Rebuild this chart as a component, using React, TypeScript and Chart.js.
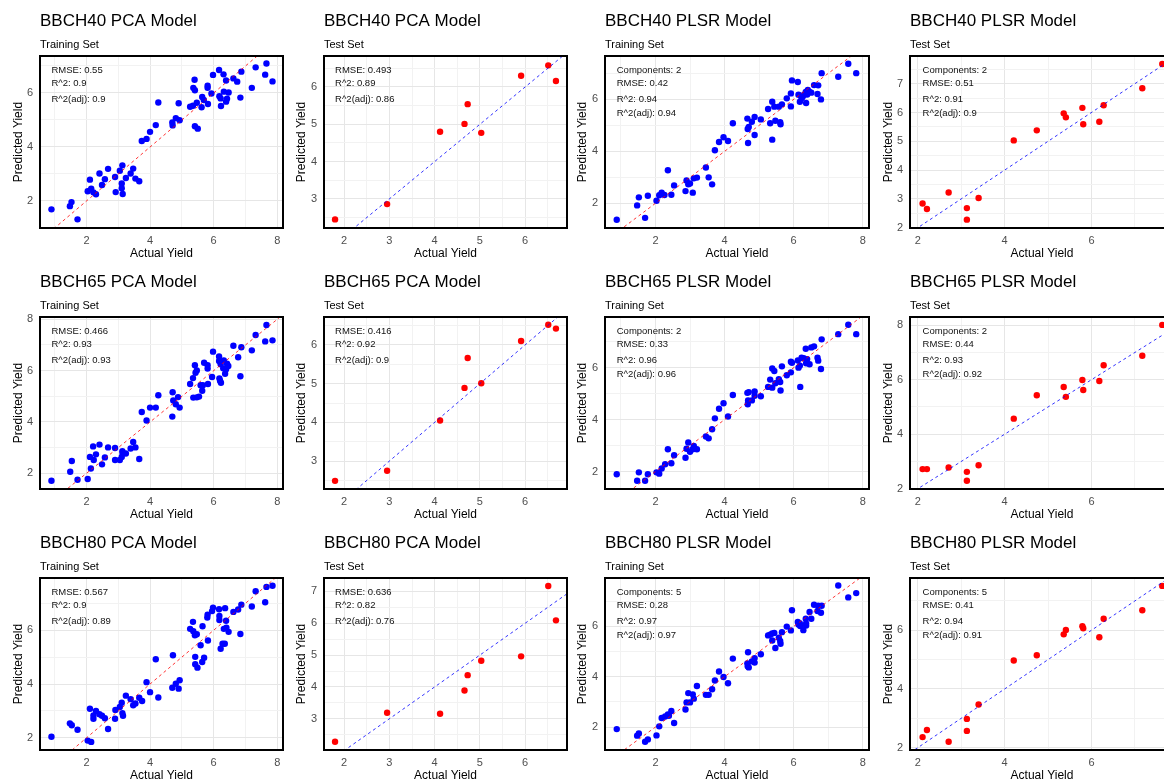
import React, { useEffect, useRef } from "react";
import { Chart, registerables } from "chart.js";

Chart.register(...registerables);

const FONT = '"Liberation Sans", Arial, Helvetica, sans-serif';

// ---------- text ----------
const stageNames = ["BBCH40", "BBCH65", "BBCH80"];
const modelNames = ["PCA Model", "PCA Model", "PLSR Model", "PLSR Model"];
const setNames = ["Training Set", "Test Set", "Training Set", "Test Set"];
const xAxisTitle = "Actual Yield";
const yAxisTitle = "Predicted Yield";

// ---------- BBCH40 ----------
const bbch40PcaTrainActual = [0.90, 1.48, 1.53, 1.72, 2.11, 2.04, 2.15, 2.22, 2.30, 2.41, 2.49, 2.58, 2.68, 2.90, 2.92, 3.05, 3.13, 3.11, 3.11, 3.14, 3.24, 3.39, 3.47, 3.54, 3.66, 3.74, 3.89, 4.00, 4.18, 4.26, 4.70, 4.71, 4.81, 4.90, 4.93, 5.26, 5.35, 5.36, 5.41, 5.40, 5.41, 5.50, 5.47, 5.62, 5.64, 5.69, 5.81, 5.81, 5.82, 5.93, 5.98, 6.17, 6.18, 6.22, 6.23, 6.31, 6.32, 6.39, 6.39, 6.42, 6.47, 6.62, 6.74, 6.84, 6.87, 7.20, 7.32, 7.62, 7.66, 7.85];
const bbch40PcaTrainPredicted = [1.69, 1.81, 1.96, 1.32, 2.79, 2.36, 2.46, 2.32, 2.25, 3.02, 2.59, 2.81, 3.19, 2.89, 2.33, 3.12, 3.32, 2.65, 2.47, 2.26, 2.85, 3.02, 3.20, 2.83, 2.73, 4.22, 4.30, 4.56, 4.81, 5.65, 4.91, 4.80, 5.07, 5.62, 4.99, 5.49, 5.53, 6.19, 6.10, 6.49, 4.77, 4.68, 5.64, 5.47, 5.85, 5.74, 6.27, 6.19, 5.59, 5.98, 6.67, 6.85, 5.88, 5.80, 5.52, 6.69, 6.05, 6.46, 5.68, 5.79, 6.02, 6.54, 6.42, 5.83, 6.79, 6.19, 6.95, 6.68, 7.09, 6.43];
const bbch40PcaTrainStats = ["RMSE: 0.55", "R^2: 0.9", "R^2(adj): 0.9"];

const pcaTestActual = [1.80, 2.95, 4.12, 4.66, 4.73, 5.03, 5.91, 6.51, 6.68];
const bbch40PcaTestPredicted = [2.45, 2.86, 4.80, 5.01, 5.54, 4.77, 6.30, 6.58, 6.16];
const bbch40PcaTestStats = ["RMSE: 0.493", "R^2: 0.89", "R^2(adj): 0.86"];

const bbch40PlsrTrainActual = [0.88, 1.47, 1.52, 1.70, 1.78, 2.03, 2.11, 2.18, 2.26, 2.36, 2.46, 2.54, 2.87, 2.90, 2.95, 3.00, 3.08, 3.11, 3.20, 3.46, 3.54, 3.64, 3.72, 3.84, 3.97, 4.10, 4.24, 4.66, 4.67, 4.68, 4.70, 4.79, 4.87, 4.87, 5.05, 5.26, 5.32, 5.38, 5.38, 5.44, 5.47, 5.57, 5.61, 5.62, 5.66, 5.80, 5.92, 5.92, 5.95, 6.12, 6.14, 6.18, 6.23, 6.26, 6.30, 6.35, 6.36, 6.39, 6.41, 6.46, 6.51, 6.59, 6.69, 6.71, 6.79, 6.81, 7.29, 7.58, 7.81];
const bbch40PlsrTrainPredicted = [1.37, 1.92, 2.23, 1.44, 2.29, 2.10, 2.31, 2.41, 2.32, 3.27, 2.33, 2.69, 2.47, 2.88, 2.73, 2.76, 2.41, 2.96, 2.99, 3.38, 3.00, 2.73, 4.04, 4.36, 4.54, 4.40, 5.08, 5.26, 4.86, 4.32, 4.94, 5.14, 5.32, 4.63, 5.23, 5.63, 5.08, 5.91, 4.45, 5.72, 5.18, 5.72, 5.12, 5.04, 5.81, 6.04, 6.23, 5.73, 6.73, 6.67, 6.18, 5.91, 6.04, 6.10, 6.18, 6.29, 5.86, 6.19, 6.36, 6.29, 6.26, 6.55, 6.21, 6.54, 6.00, 7.01, 6.87, 7.37, 7.01];
const bbch40PlsrTrainStats = ["Components: 2", "RMSE: 0.42", "R^2: 0.94", "R^2(adj): 0.94"];

const plsrTestActual = [2.11, 2.21, 2.71, 3.13, 3.13, 3.40, 4.21, 4.74, 5.36, 5.41, 5.79, 5.81, 6.18, 6.28, 7.17, 7.63];
const bbch40PlsrTestPredicted = [2.84, 2.65, 3.22, 2.68, 2.28, 3.03, 5.03, 5.38, 5.97, 5.83, 6.16, 5.59, 5.68, 6.25, 6.84, 7.68];
const bbch40PlsrTestStats = ["Components: 2", "RMSE: 0.51", "R^2: 0.91", "R^2(adj): 0.9"];

// ---------- BBCH65 ----------
const bbch65PcaTrainActual = [0.90, 1.49, 1.54, 1.72, 2.04, 2.11, 2.14, 2.21, 2.23, 2.30, 2.41, 2.49, 2.58, 2.68, 2.90, 2.90, 3.05, 3.11, 3.13, 3.14, 3.24, 3.39, 3.47, 3.54, 3.66, 3.74, 3.89, 4.00, 4.18, 4.26, 4.70, 4.71, 4.73, 4.81, 4.88, 4.93, 5.26, 5.35, 5.36, 5.41, 5.43, 5.47, 5.47, 5.54, 5.59, 5.64, 5.66, 5.70, 5.81, 5.81, 5.82, 5.95, 5.98, 6.17, 6.17, 6.18, 6.20, 6.23, 6.22, 6.30, 6.32, 6.36, 6.39, 6.42, 6.46, 6.62, 6.77, 6.84, 6.87, 7.20, 7.32, 7.62, 7.66, 7.85];
const bbch65PcaTrainPredicted = [1.71, 2.06, 2.48, 1.75, 1.78, 2.64, 2.19, 3.05, 2.52, 2.74, 3.12, 2.35, 2.62, 3.01, 2.99, 2.52, 2.52, 2.64, 2.86, 2.78, 2.77, 2.97, 3.22, 3.01, 2.56, 4.39, 4.06, 4.56, 4.56, 5.04, 4.21, 5.16, 4.84, 4.69, 4.97, 4.56, 5.48, 5.71, 4.95, 6.21, 5.92, 6.01, 4.96, 4.99, 5.43, 5.22, 5.43, 6.31, 6.21, 6.08, 5.48, 5.75, 6.74, 6.55, 6.38, 5.70, 5.61, 5.53, 6.25, 6.09, 6.40, 5.88, 6.05, 6.27, 6.18, 6.97, 6.52, 5.78, 6.91, 6.79, 7.39, 7.14, 7.78, 7.18];
const bbch65PcaTrainStats = ["RMSE: 0.466", "R^2: 0.93", "R^2(adj): 0.93"];

const bbch65PcaTestPredicted = [2.49, 2.75, 4.05, 4.89, 5.66, 5.01, 6.10, 6.52, 6.42];
const bbch65PcaTestStats = ["RMSE: 0.416", "R^2: 0.92", "R^2(adj): 0.9"];

const bbch65PlsrTrainActual = [0.88, 1.47, 1.52, 1.70, 1.78, 2.03, 2.11, 2.18, 2.28, 2.36, 2.46, 2.54, 2.87, 2.90, 2.95, 3.00, 3.08, 3.11, 3.20, 3.46, 3.54, 3.64, 3.72, 3.84, 3.97, 4.10, 4.24, 4.66, 4.67, 4.68, 4.70, 4.79, 4.87, 4.87, 5.05, 5.26, 5.32, 5.38, 5.38, 5.44, 5.47, 5.57, 5.61, 5.62, 5.66, 5.80, 5.92, 5.92, 5.95, 6.12, 6.14, 6.18, 6.19, 6.23, 6.29, 6.35, 6.36, 6.39, 6.46, 6.51, 6.59, 6.69, 6.71, 6.79, 6.81, 7.29, 7.58, 7.81];
const bbch65PlsrTrainPredicted = [1.90, 1.65, 1.97, 1.65, 1.90, 1.97, 1.92, 2.12, 2.28, 2.86, 2.32, 2.63, 2.53, 2.88, 3.12, 2.76, 2.86, 2.99, 2.86, 3.35, 3.28, 3.63, 4.05, 4.42, 4.63, 4.12, 4.95, 5.03, 4.59, 4.74, 5.06, 4.74, 5.08, 4.92, 4.90, 5.26, 5.54, 5.97, 5.23, 5.87, 5.40, 5.56, 5.45, 5.12, 6.05, 5.71, 6.23, 5.82, 6.19, 6.28, 6.00, 6.08, 5.26, 6.38, 6.36, 6.73, 6.17, 6.33, 6.13, 6.78, 6.82, 6.38, 6.27, 5.95, 7.09, 7.29, 7.65, 7.29];
const bbch65PlsrTrainStats = ["Components: 2", "RMSE: 0.33", "R^2: 0.96", "R^2(adj): 0.96"];

const bbch65PlsrTestPredicted = [2.72, 2.72, 2.78, 2.62, 2.29, 2.86, 4.57, 5.43, 5.73, 5.37, 5.99, 5.62, 5.95, 6.53, 6.88, 8.01];
const bbch65PlsrTestStats = ["Components: 2", "RMSE: 0.44", "R^2: 0.93", "R^2(adj): 0.92"];

// ---------- BBCH80 ----------
const bbch80PcaTrainActual = [0.90, 1.48, 1.54, 1.72, 2.04, 2.15, 2.11, 2.22, 2.22, 2.30, 2.41, 2.49, 2.58, 2.68, 2.90, 2.91, 3.05, 3.11, 3.13, 3.15, 3.24, 3.39, 3.47, 3.54, 3.66, 3.75, 3.89, 4.00, 4.18, 4.26, 4.70, 4.72, 4.81, 4.90, 4.93, 5.26, 5.35, 5.36, 5.41, 5.42, 5.42, 5.47, 5.49, 5.59, 5.64, 5.65, 5.70, 5.80, 5.81, 5.82, 5.95, 5.98, 6.17, 6.18, 6.18, 6.22, 6.28, 6.32, 6.35, 6.36, 6.39, 6.40, 6.47, 6.62, 6.77, 6.84, 6.87, 7.20, 7.32, 7.62, 7.66, 7.85];
const bbch80PcaTrainPredicted = [2.04, 2.54, 2.47, 2.30, 1.90, 1.85, 3.08, 2.83, 2.71, 3.00, 2.88, 2.82, 2.73, 2.33, 2.71, 3.04, 3.15, 3.31, 2.92, 2.82, 3.57, 3.44, 3.21, 3.28, 3.49, 3.37, 4.07, 3.70, 4.92, 3.50, 3.86, 5.07, 4.01, 3.83, 4.14, 6.05, 6.31, 5.96, 5.81, 5.01, 4.74, 5.85, 4.61, 5.44, 4.82, 6.15, 4.98, 6.47, 6.58, 5.62, 6.71, 6.84, 6.78, 6.38, 6.53, 5.31, 5.50, 6.05, 5.50, 6.82, 6.35, 6.09, 5.94, 6.68, 6.77, 5.86, 6.95, 6.88, 7.45, 7.04, 7.61, 7.65];
const bbch80PcaTrainStats = ["RMSE: 0.567", "R^2: 0.9", "R^2(adj): 0.89"];

const bbch80PcaTestPredicted = [2.28, 3.19, 3.16, 3.89, 4.37, 4.82, 4.96, 7.17, 6.09];
const bbch80PcaTestStats = ["RMSE: 0.636", "R^2: 0.82", "R^2(adj): 0.76"];

const bbch80PlsrTrainActual = [0.88, 1.47, 1.52, 1.70, 1.78, 2.03, 2.11, 2.18, 2.28, 2.36, 2.39, 2.46, 2.54, 2.87, 2.90, 2.95, 3.00, 3.08, 3.11, 3.20, 3.46, 3.54, 3.64, 3.72, 3.84, 3.97, 4.10, 4.24, 4.66, 4.67, 4.68, 4.70, 4.79, 4.87, 4.87, 5.05, 5.26, 5.32, 5.38, 5.38, 5.44, 5.47, 5.57, 5.61, 5.62, 5.66, 5.80, 5.92, 5.95, 6.12, 6.14, 6.18, 6.19, 6.28, 6.35, 6.36, 6.36, 6.46, 6.51, 6.59, 6.69, 6.71, 6.79, 6.81, 7.29, 7.58, 7.81];
const bbch80PlsrTrainPredicted = [1.92, 1.66, 1.75, 1.42, 1.51, 1.67, 2.03, 2.36, 2.42, 2.50, 2.45, 2.64, 2.16, 2.70, 2.98, 3.35, 2.98, 3.30, 3.13, 3.63, 3.28, 3.28, 3.50, 3.85, 4.21, 3.99, 3.74, 4.72, 4.53, 4.42, 4.97, 4.37, 4.61, 4.74, 4.56, 4.89, 5.64, 5.67, 5.72, 5.44, 5.74, 5.14, 5.55, 5.42, 5.31, 5.77, 5.99, 5.84, 6.64, 6.17, 6.07, 6.12, 6.01, 5.85, 6.30, 6.12, 6.03, 6.57, 6.30, 6.86, 6.61, 6.82, 6.54, 6.82, 7.62, 7.15, 7.32];
const bbch80PlsrTrainStats = ["Components: 5", "RMSE: 0.28", "R^2: 0.97", "R^2(adj): 0.97"];

const bbch80PlsrTestPredicted = [2.36, 2.60, 2.20, 2.98, 2.57, 3.47, 4.97, 5.15, 5.86, 6.01, 6.14, 6.07, 5.76, 6.39, 6.68, 7.51];
const bbch80PlsrTestStats = ["Components: 5", "RMSE: 0.41", "R^2: 0.94", "R^2(adj): 0.91"];

// ---------- axis limits & tick steps ----------
const xLimits = [[0.54, 8.18], [1.556, 6.924], [0.54, 8.18], [1.82, 7.9]];
const xTickSteps = [2, 1, 2, 2];
const yLimits = [
  [[1.0, 7.37], [2.22, 6.83], [1.05, 7.67], [1.99, 7.96]],
  [[1.39, 8.09], [2.28, 6.72], [1.33, 7.95], [1.99, 8.3]],
  [[1.55, 7.94], [2.02, 7.42], [1.09, 7.92], [1.92, 7.78]],
];
const yTickSteps = [
  [2, 1, 2, 1],
  [2, 1, 2, 2],
  [2, 1, 2, 2],
];

const panelData = [
  [
    [bbch40PcaTrainActual, bbch40PcaTrainPredicted, bbch40PcaTrainStats],
    [pcaTestActual, bbch40PcaTestPredicted, bbch40PcaTestStats],
    [bbch40PlsrTrainActual, bbch40PlsrTrainPredicted, bbch40PlsrTrainStats],
    [plsrTestActual, bbch40PlsrTestPredicted, bbch40PlsrTestStats],
  ],
  [
    [bbch65PcaTrainActual, bbch65PcaTrainPredicted, bbch65PcaTrainStats],
    [pcaTestActual, bbch65PcaTestPredicted, bbch65PcaTestStats],
    [bbch65PlsrTrainActual, bbch65PlsrTrainPredicted, bbch65PlsrTrainStats],
    [plsrTestActual, bbch65PlsrTestPredicted, bbch65PlsrTestStats],
  ],
  [
    [bbch80PcaTrainActual, bbch80PcaTrainPredicted, bbch80PcaTrainStats],
    [pcaTestActual, bbch80PcaTestPredicted, bbch80PcaTestStats],
    [bbch80PlsrTrainActual, bbch80PlsrTrainPredicted, bbch80PlsrTrainStats],
    [plsrTestActual, bbch80PlsrTestPredicted, bbch80PlsrTestStats],
  ],
];

// ---------- layout (not data) ----------
const ROW_H = 261;
const columns = [
  { left: 0, width: 291, boxLeft: 40, boxRight: 283, yTitlePad: 11.5 },
  { left: 291, width: 291, boxLeft: 324, boxRight: 567, yTitlePad: 4 },
  { left: 570, width: 310, boxLeft: 605, boxRight: 869, yTitlePad: 6 },
  { left: 880, width: 300, boxLeft: 910, boxRight: 1174, yTitlePad: 1.3 },
];
const statLineOffsets = [14, 27.5, 43, 57.5];

function makeTicks(min: number, max: number, step: number) {
  const half = step / 2;
  const out: { value: number }[] = [];
  for (let v = Math.ceil(min / half - 1e-9) * half; v <= max + 1e-9; v += half) {
    out.push({ value: Math.round(v * 1000) / 1000 });
  }
  return out;
}
const isMajor = (v: number, step: number) => Math.abs(v / step - Math.round(v / step)) < 1e-6;

function Panel({ row, col }: { row: number; col: number }) {
  const ref = useRef<HTMLCanvasElement | null>(null);
  const geo = columns[col];
  useEffect(() => {
    const [actual, predicted, stats] = panelData[row][col] as [number[], number[], string[]];
    const isTrain = col % 2 === 0;
    const pointColor = isTrain ? "#0000FF" : "#FF0000";
    const lineColor = isTrain ? "rgba(255,0,0,0.8)" : "rgba(0,0,255,0.8)";
    const [xMin, xMax] = xLimits[col];
    const [yMin, yMax] = yLimits[row][col];
    const xStep = xTickSteps[col];
    const yStep = yTickSteps[row][col];
    const lo = Math.min(xMin, yMin);
    const hi = Math.max(xMax, yMax);
    const points = actual.map((a, i) => ({ x: a, y: predicted[i] }));
    const minActual = Math.min(...actual);

    const decor = {
      id: "decor" + row + col,
      afterDraw(chart: any) {
        const { ctx, chartArea: a } = chart;
        ctx.save();
        ctx.strokeStyle = "#000";
        ctx.lineWidth = 2;
        ctx.strokeRect(a.left, a.top, a.right - a.left, a.bottom - a.top);
        ctx.fillStyle = "#111";
        ctx.font = `9.5px ${FONT}`;
        ctx.textAlign = "left";
        ctx.textBaseline = "middle";
        const tx = chart.scales.x.getPixelForValue(minActual);
        stats.forEach((s, i) => ctx.fillText(s, tx, a.top + statLineOffsets[i]));
        ctx.restore();
      },
    };

    const gridColor = (step: number) => (c: any) =>
      c.tick && isMajor(c.tick.value, step) ? "#E6E6E6" : "#F2F2F2";

    const chart = new Chart(ref.current as HTMLCanvasElement, {
      type: "scatter",
      data: {
        datasets: [
          {
            label: "1:1",
            data: [{ x: lo, y: lo }, { x: hi, y: hi }],
            showLine: true,
            borderColor: lineColor,
            borderWidth: 1,
            borderDash: [3, 3],
            pointRadius: 0,
            order: 0,
          } as any,
          {
            label: "Predicted",
            data: points,
            pointRadius: 3.2,
            pointBackgroundColor: pointColor,
            pointBorderWidth: 0,
            backgroundColor: pointColor,
            borderColor: pointColor,
            order: 1,
          } as any,
        ],
      },
      options: {
        responsive: false,
        animation: false,
        devicePixelRatio: 1,
        events: [],
        layout: { padding: { left: 0, top: 0, bottom: 0, right: geo.width - (geo.boxRight - geo.left) } },
        plugins: {
          legend: { display: false },
          tooltip: { enabled: false },
          title: {
            display: true,
            text: `${stageNames[row]} ${modelNames[col]}`,
            align: "start",
            fullSize: false,
            color: "#000",
            font: { family: FONT, size: 17, weight: "normal", lineHeight: "20px" },
            padding: { top: 11, bottom: 0 },
          },
          subtitle: {
            display: true,
            text: setNames[col],
            align: "start",
            fullSize: false,
            color: "#000",
            font: { family: FONT, size: 11, weight: "normal", lineHeight: "14px" },
            padding: { top: 6.5, bottom: 4.5 },
          },
        },
        scales: {
          x: {
            type: "linear",
            position: "bottom",
            min: xMin,
            max: xMax,
            afterBuildTicks: (s: any) => { s.ticks = makeTicks(xMin, xMax, xStep); },
            afterFit: (s: any) => { s.height = 33; },
            grid: { color: gridColor(xStep), lineWidth: 1, drawTicks: false },
            border: { display: false },
            ticks: {
              autoSkip: false,
              maxRotation: 0,
              padding: 6,
              color: "#4D4D4D",
              font: { family: FONT, size: 11 },
              callback: (v: any) => (isMajor(Number(v), xStep) ? String(Math.round(Number(v))) : ""),
            },
            title: {
              display: true,
              text: xAxisTitle,
              color: "#000",
              font: { family: FONT, size: 12, lineHeight: "14px" },
              padding: { top: 0, bottom: 0 },
            },
          },
          y: {
            type: "linear",
            position: "left",
            min: yMin,
            max: yMax,
            afterBuildTicks: (s: any) => { s.ticks = makeTicks(yMin, yMax, yStep); },
            afterFit: (s: any) => { s.width = geo.boxLeft - geo.left; },
            grid: { color: gridColor(yStep), lineWidth: 1, drawTicks: false },
            border: { display: false },
            ticks: {
              autoSkip: false,
              padding: 7,
              color: "#4D4D4D",
              font: { family: FONT, size: 11 },
              callback: (v: any) => (isMajor(Number(v), yStep) ? String(Math.round(Number(v))) : ""),
            },
            title: {
              display: true,
              text: yAxisTitle,
              color: "#000",
              font: { family: FONT, size: 12, lineHeight: "14px" },
              padding: { top: geo.yTitlePad, bottom: 0 },
            },
          },
        },
      } as any,
      plugins: [decor],
    });
    return () => chart.destroy();
  }, [row, col]);

  return (
    <canvas
      ref={ref}
      width={geo.width}
      height={ROW_H}
      style={{ position: "absolute", left: geo.left, top: row * ROW_H, width: geo.width, height: ROW_H, display: "block" }}
    />
  );
}

export default function App() {
  const cells: JSX.Element[] = [];
  for (let r = 0; r < 3; r++) for (let c = 0; c < 4; c++) cells.push(<Panel key={`${r}-${c}`} row={r} col={c} />);
  return (
    <div style={{ position: "fixed", left: 0, top: 0, width: 1164, height: 783, overflow: "hidden", background: "#fff" }}>
      {cells}
    </div>
  );
}
